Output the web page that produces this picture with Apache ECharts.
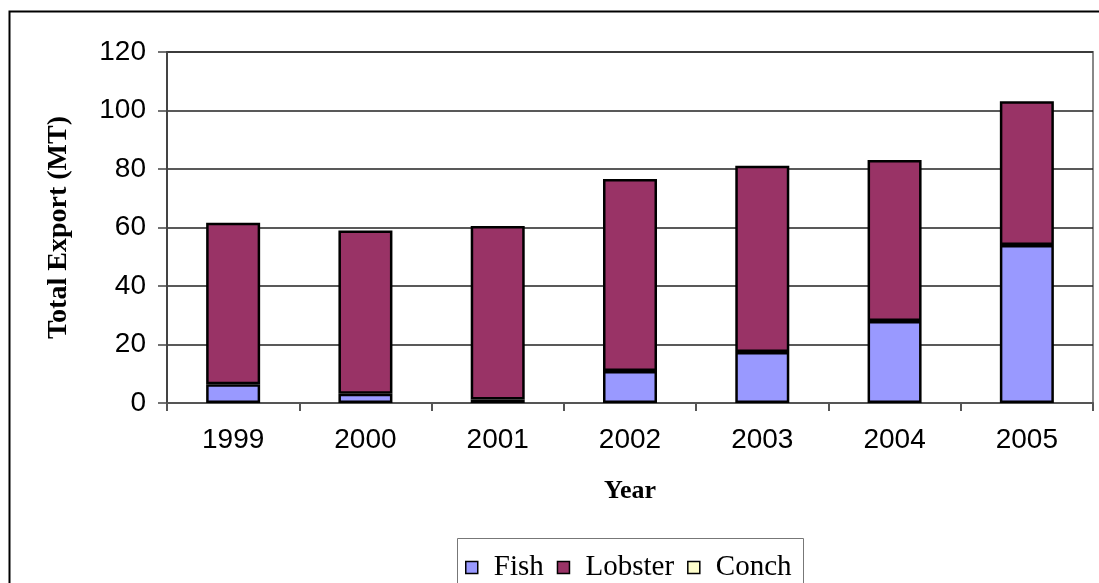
<!DOCTYPE html>
<html>
<head>
<meta charset="utf-8">
<script src="https://cdn.jsdelivr.net/npm/echarts@6/dist/echarts.min.js"></script>
<style>
html,body{margin:0;padding:0;background:#fff;}
#chart{width:1099px;height:583px;}
</style>
</head>
<body>
<div id="chart"></div>
<script>
var categories = ['1999', '2000', '2001', '2002', '2003', '2004', '2005'];
var fish = [6.4, 3.2, 1.2, 10.9, 17.4, 28.0, 54.0];
var lobster = [55.2, 55.8, 59.3, 65.7, 63.7, 55.1, 49.2];
var conch = [0, 0, 0, 0, 0, 0, 0];
var seriesNames = ['Fish', 'Lobster', 'Conch'];
var seriesColors = ['#9999FF', '#993366', '#FFFFCC'];
var yTitle = 'Total Export (MT)';
var xTitle = 'Year';

var chart = echarts.init(document.getElementById('chart'), null, {renderer: 'canvas'});
var values = [fish, lobster, conch];
var borderWidths = [2.5, 2.5, 0];
var series = seriesNames.map(function (n, i) {
  return {
    name: n,
    type: 'bar',
    stack: 'total',
    barWidth: 54,
    data: values[i],
    itemStyle: {color: seriesColors[i], borderColor: '#000', borderWidth: borderWidths[i]},
    emphasis: {disabled: true}
  };
});

chart.setOption({
  animation: false,
  backgroundColor: '#fff',
  grid: {left: 167, right: 6, top: 52, bottom: 180, show: true, borderColor: '#888', borderWidth: 2},
  graphic: [
    {type: 'rect', left: 7, top: 9, shape: {width: 1200, height: 700}, style: {fill: 'none', stroke: '#000', lineWidth: 2}, z: 100},
    {type: 'rect', left: 455, top: 536, shape: {width: 346, height: 80}, style: {fill: 'none', stroke: '#777', lineWidth: 1}, z: 100}
  ],
  legend: {
    data: seriesNames.map(function (n) { return {name: n}; }),
    left: 460, top: 548,
    itemWidth: 12, itemHeight: 12, itemGap: 13,
    icon: 'rect',
    itemStyle: {borderColor: '#000', borderWidth: 1.5},
    textStyle: {fontFamily: 'Liberation Serif', fontSize: 29, color: '#000', padding: [0, 0, 0, 11]},
    selectedMode: false
  },
  xAxis: {
    type: 'category',
    data: categories,
    axisLine: {lineStyle: {color: '#555', width: 2}},
    axisTick: {show: true, length: 8, lineStyle: {color: '#555', width: 2}},
    axisLabel: {fontFamily: 'Liberation Sans', fontSize: 28, color: '#000', margin: 23},
    name: xTitle,
    nameLocation: 'middle',
    nameGap: 75,
    nameTextStyle: {fontFamily: 'Liberation Serif', fontWeight: 'bold', fontSize: 26, color: '#000'}
  },
  yAxis: {
    type: 'value',
    min: 0, max: 120, interval: 20,
    axisLine: {show: true, lineStyle: {color: '#444', width: 2}},
    axisTick: {show: true, length: 9, lineStyle: {color: '#444', width: 1.5}},
    axisLabel: {fontFamily: 'Liberation Sans', fontSize: 28, color: '#000', margin: 21},
    splitLine: {lineStyle: {color: '#222', width: 1.5}},
    name: yTitle,
    nameLocation: 'middle',
    nameGap: 94,
    nameRotate: 90,
    nameTextStyle: {fontFamily: 'Liberation Serif', fontWeight: 'bold', fontSize: 28, color: '#000'}
  },
  series: series
});
</script>
</body>
</html>
